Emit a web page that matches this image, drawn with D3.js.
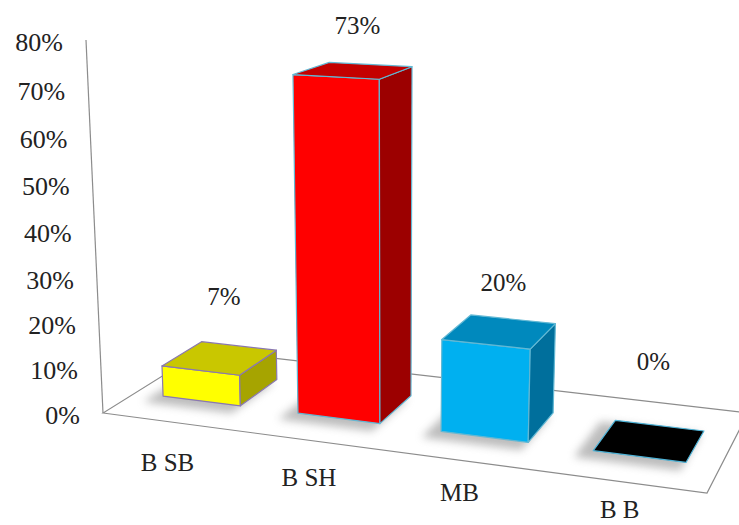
<!DOCTYPE html>
<html>
<head>
<meta charset="utf-8">
<script src="https://cdn.jsdelivr.net/npm/d3@7"></script>
<style>
html, body { margin: 0; padding: 0; background: #fff; }
text { font-family: "Liberation Serif", "Times New Roman", serif; fill: #222; }
</style>
</head>
<body>
<div id="chart"></div>
<script>
// chart data
var categories = ["B SB", "B SH", "MB", "B B"];
var values = [0.07, 0.73, 0.20, 0.00];
var valueLabels = ["7%", "73%", "20%", "0%"];
var tickValues = [0, 0.1, 0.2, 0.3, 0.4, 0.5, 0.6, 0.7, 0.8];
var tickLabels = ["0%", "10%", "20%", "30%", "40%", "50%", "60%", "70%", "80%"];

// bar colours (front, top, right side, outline)
var frontFill = ["#ffff00", "#ff0000", "#00b0f0", "#000000"];
var topFill = ["#c9c700", "#c40000", "#0089bd", "#000000"];
var sideFill = ["#a6a400", "#9c0000", "#006f9c", "#000000"];
var edgeColor = ["#8a78b0", "#62b8d4", "#62b8d4", "#4fb4d8"];
// how far the value labels sit above the bar tops (px)
var labelLift = [61, 45, 49, 79];

var width = 739, height = 525;

// floor of the 3d box on screen, top of the value axis, and the far
// point where the vertical edges meet (3 point perspective)
var floorFL = [103, 413], floorFR = [707, 493], floorBR = [748, 413], floorBL = [204, 350];
var axisTop = [86, 40];
var vanishY = 6738;
var zFront = 0.3, zBack = 0.7;

// homography unit square -> floor quad
var dx1 = floorFR[0] - floorBR[0], dx2 = floorBL[0] - floorBR[0],
	dx3 = floorFL[0] - floorFR[0] + floorBR[0] - floorBL[0],
	dy1 = floorFR[1] - floorBR[1], dy2 = floorBL[1] - floorBR[1],
	dy3 = floorFL[1] - floorFR[1] + floorBR[1] - floorBL[1];
var den = dx1 * dy2 - dx2 * dy1;
var g = (dx3 * dy2 - dx2 * dy3) / den,
	h = (dx1 * dy3 - dx3 * dy1) / den;
var a = floorFR[0] - floorFL[0] + g * floorFR[0],
	b = floorBL[0] - floorFL[0] + h * floorBL[0],
	c = floorFL[0],
	d = floorFR[1] - floorFL[1] + g * floorFR[1],
	e = floorBL[1] - floorFL[1] + h * floorBL[1],
	f = floorFL[1];
// vertical column of the camera matrix
var k = (axisTop[1] - f) / (vanishY - axisTop[1]);
var vanishX = (axisTop[0] * (1 + k) - c) / k;

function project(s, y, t){
	var w = g * s + h * t + 1 + k * y;
	return [(a * s + b * t + c + k * y * vanishX) / w,
		(d * s + e * t + f + k * y * vanishY) / w];
}
function pts(list){
	return list.map(function(p){ return project(p[0], p[1], p[2]).join(","); }).join(" ");
}

var x = d3.scaleBand().domain(categories).range([0, 1]).paddingInner(0.42).paddingOuter(0.21);
var y = d3.scaleLinear().domain([0, 0.8]).range([0, 1]);

var svg = d3.select("#chart").append("svg")
	.attr("width", width)
	.attr("height", height);

svg.append("rect").attr("width", width).attr("height", height).attr("fill", "#fff");

var defs = svg.append("defs");
defs.append("filter").attr("id", "soft")
	.attr("x", "-50%").attr("y", "-50%").attr("width", "200%").attr("height", "200%")
	.append("feGaussianBlur").attr("stdDeviation", 4);

// floor outline and value axis
svg.append("polygon")
	.attr("points", pts([[0, 0, 0], [1, 0, 0], [1, 0, 1], [0, 0, 1]]))
	.attr("fill", "none")
	.attr("stroke", "#8c8c8c")
	.attr("stroke-width", 1.2);
svg.append("polyline")
	.attr("points", pts([[0, 0, 0], [0, y(0.8), 0]]))
	.attr("fill", "none")
	.attr("stroke", "#8c8c8c")
	.attr("stroke-width", 1.2);

// tick labels
svg.append("g").selectAll("text")
	.data(tickValues)
	.enter().append("text")
	.attr("x", function(v){ return project(0, y(v), 0)[0] - 23; })
	.attr("y", function(v){ return project(0, y(v), 0)[1] + 2; })
	.attr("text-anchor", "end")
	.attr("dominant-baseline", "central")
	.attr("font-size", 26)
	.text(function(v, i){ return tickLabels[i]; });

// bars
var bars = svg.append("g").selectAll("g")
	.data(values)
	.enter().append("g");

bars.append("polygon")
	.attr("points", function(v, i){
		var x0 = x(categories[i]) - 0.02, x1 = x(categories[i]) + x.bandwidth();
		return pts([[x0, 0, zFront - 0.06], [x1, 0, zFront - 0.06], [x1, 0, zBack], [x0, 0, zBack]]);
	})
	.attr("fill", "#7a7a7a")
	.attr("opacity", 0.5)
	.attr("filter", "url(#soft)")
	.attr("transform", "translate(-3,3)");

bars.each(function(v, i){
	var gb = d3.select(this);
	var x0 = x(categories[i]), x1 = x0 + x.bandwidth(), top = y(v);
	var faces = [];
	if (top > 0){
		faces.push({fill: frontFill[i], p: [[x0, 0, zFront], [x1, 0, zFront], [x1, top, zFront], [x0, top, zFront]]});
		faces.push({fill: sideFill[i], p: [[x1, 0, zFront], [x1, 0, zBack], [x1, top, zBack], [x1, top, zFront]]});
	}
	faces.push({fill: topFill[i], p: [[x0, top, zFront], [x1, top, zFront], [x1, top, zBack], [x0, top, zBack]]});
	faces.forEach(function(fc){
		gb.append("polygon")
			.attr("points", pts(fc.p))
			.attr("fill", fc.fill)
			.attr("stroke", edgeColor[i])
			.attr("stroke-width", 1.2)
			.attr("stroke-linejoin", "round");
	});
});

// value labels
svg.append("g").selectAll("text")
	.data(values)
	.enter().append("text")
	.attr("x", function(v, i){ return project(x(categories[i]) + x.bandwidth() / 2, y(v), 0.5)[0] + 4; })
	.attr("y", function(v, i){ return project(x(categories[i]) + x.bandwidth() / 2, y(v), 0.5)[1] - labelLift[i]; })
	.attr("text-anchor", "middle")
	.attr("dominant-baseline", "central")
	.attr("font-size", 25)
	.text(function(v, i){ return valueLabels[i]; });

// category labels under the floor
var labelDrop = d3.scaleLinear().domain([0, categories.length - 1]).range([41, 28]);
svg.append("g").selectAll("text")
	.data(categories)
	.enter().append("text")
	.attr("x", function(cat){ return project(x(cat) + x.bandwidth() / 2, 0, 0)[0] - 3; })
	.attr("y", function(cat, i){ return project(x(cat) + x.bandwidth() / 2, 0, 0)[1] + labelDrop(i); })
	.attr("text-anchor", "middle")
	.attr("dominant-baseline", "central")
	.attr("font-size", 25)
	.text(function(cat){ return cat; });
</script>
</body>
</html>
